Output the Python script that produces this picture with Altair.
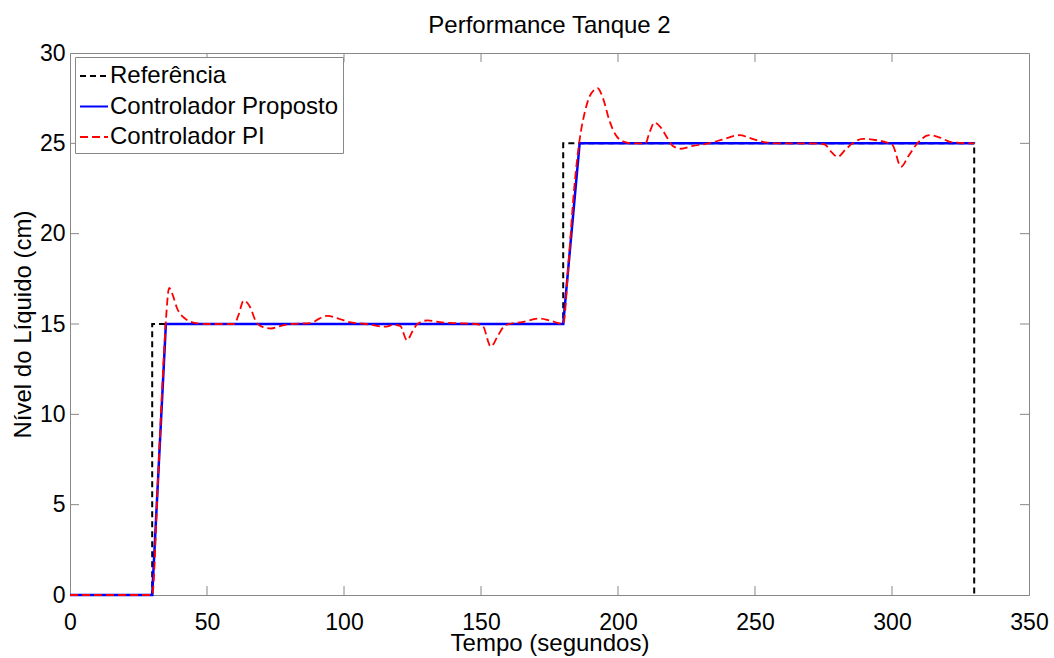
import altair as alt
import pandas as pd

# Reference level (step set-point)
ref_t = [0, 30, 30, 180, 180, 330, 330]
ref_v = [0, 0, 15, 15, 25, 25, 0]

# Proposed controller response
prop_t = [0, 30, 35, 180, 186, 330]
prop_v = [0, 0, 15, 15, 25, 25]

# PI controller response
pi_t = [0, 30, 32, 34, 35, 36.2, 37.5, 39, 42, 46, 50, 60, 61.5, 63.4, 65.5, 68, 70,
        73.4, 77, 81, 88, 91, 94, 98, 102, 108, 115, 118, 120.5, 123, 125, 126.8, 130.5,
        135, 140, 148, 150.6, 153.6, 156, 158, 160.3, 165, 171.3, 175, 180, 182, 184, 186,
        188, 190, 192.6, 194.5, 197, 199, 202, 205, 210, 211.5, 213.3, 215.5, 218, 220,
        223, 227, 233, 238, 244.3, 249, 254, 260, 270, 275.3, 278, 280.2, 283, 285.6,
        289.3, 293, 298, 300.2, 303.3, 306, 309, 313.6, 317, 322, 330]
pi_v = [0, 0, 6, 12.5, 15.2, 17.0, 16.6, 15.9, 15.3, 15.05, 15.0, 15.0, 15.5, 16.3, 16.0,
        15.1, 14.85, 14.75, 14.9, 15.0, 15.05, 15.3, 15.45, 15.3, 15.1, 15.0, 14.85, 14.95,
        14.9, 14.1, 14.6, 15.0, 15.2, 15.1, 15.05, 15.0, 14.9, 13.75, 14.3, 14.8, 15.0,
        15.1, 15.3, 15.2, 15.0, 18.5, 22.5, 25.2, 26.8, 27.7, 28.05, 27.5, 26.2, 25.5, 25.1,
        25.0, 25.0, 25.6, 26.15, 25.9, 25.3, 24.85, 24.7, 24.85, 25.0, 25.2, 25.45, 25.25,
        25.05, 25.0, 25.0, 24.95, 24.5, 24.25, 24.65, 25.0, 25.25, 25.2, 25.05, 24.9, 23.7,
        24.3, 24.95, 25.45, 25.35, 25.05, 25.0]

series_names = ["Referência", "Controlador Proposto", "Controlador PI"]
series_colors = ["#000000", "#0000ff", "#ff0000"]
series_dash = [[6, 4], [1, 0], [8, 4]]

x_ticks = [0, 50, 100, 150, 200, 250, 300, 350]
y_ticks = [0, 5, 10, 15, 20, 25, 30]
x_inner = [50, 100, 150, 200, 250, 300]
y_inner = [5, 10, 15, 20, 25]

W, H = 959, 542
FONT = "Liberation Sans"
GRAY = "#888888"
TICK = 9

frames = []
for name, t, v in [(series_names[0], ref_t, ref_v),
                   (series_names[1], prop_t, prop_v),
                   (series_names[2], pi_t, pi_v)]:
    frames.append(pd.DataFrame({"t": t, "v": v, "serie": name, "i": range(len(t))}))
df = pd.concat(frames, ignore_index=True)

xscale = alt.Scale(domain=[0, 350], nice=False, zero=False)
yscale = alt.Scale(domain=[0, 30], nice=False, zero=False)
color = alt.Color("serie:N", title=None,
                  scale=alt.Scale(domain=series_names, range=series_colors),
                  legend=alt.Legend(orient="none", legendX=5, legendY=4,
                                    symbolType="stroke", symbolSize=784,
                                    symbolStrokeWidth=2, labelFontSize=24,
                                    labelFont=FONT, labelColor="black",
                                    labelOffset=1, padding=4, rowPadding=3.5,
                                    strokeColor=GRAY, fillColor="white",
                                    cornerRadius=0, labelLimit=400))
dash = alt.StrokeDash("serie:N", title=None,
                      scale=alt.Scale(domain=series_names, range=series_dash),
                      legend=alt.Legend(orient="none", legendX=5, legendY=4))

xaxis = alt.Axis(values=x_ticks, title="Tempo (segundos)", labelFlush=False,
                 labelPadding=16, titleY=55, titleBaseline="alphabetic",
                 ticks=False, grid=False)
yaxis = alt.Axis(values=y_ticks, title="Nível do Líquido (cm)", labelPadding=5,
                 titlePadding=4, ticks=False, grid=False)

base = alt.Chart(df).encode(
    x=alt.X("t:Q", scale=xscale, axis=xaxis),
    y=alt.Y("v:Q", scale=yscale, axis=yaxis),
    color=color,
    strokeDash=dash,
    order="i:Q",
)

ref_line = base.transform_filter(alt.datum.serie == series_names[0]).mark_line(strokeWidth=2)
prop_line = base.transform_filter(alt.datum.serie == series_names[1]).mark_line(strokeWidth=2.5)
pi_line = base.transform_filter(alt.datum.serie == series_names[2]).mark_line(
    strokeWidth=1.8, interpolate="monotone")

# Inward tick marks on all four sides of the frame
xt = pd.DataFrame({"t": x_inner})
yt = pd.DataFrame({"v": y_inner})
tick_bottom = alt.Chart(xt).mark_rule(color=GRAY, strokeWidth=1).encode(
    x=alt.X("t:Q", scale=xscale, axis=xaxis), y=alt.value(H), y2=alt.value(H - TICK))
tick_top = alt.Chart(xt).mark_rule(color=GRAY, strokeWidth=1).encode(
    x=alt.X("t:Q", scale=xscale, axis=xaxis), y=alt.value(0), y2=alt.value(TICK))
tick_left = alt.Chart(yt).mark_rule(color=GRAY, strokeWidth=1).encode(
    y=alt.Y("v:Q", scale=yscale, axis=yaxis), x=alt.value(0), x2=alt.value(TICK))
tick_right = alt.Chart(yt).mark_rule(color=GRAY, strokeWidth=1).encode(
    y=alt.Y("v:Q", scale=yscale, axis=yaxis), x=alt.value(W), x2=alt.value(W - TICK))

chart = alt.layer(
    ref_line, prop_line, pi_line, tick_bottom, tick_top, tick_left, tick_right
).properties(
    width=W, height=H,
    background="white",
    autosize=alt.AutoSizeParams(type="none"),
    padding={"left": 70, "top": 53, "right": 25, "bottom": 63},
    title=alt.TitleParams("Performance Tanque 2", fontSize=24, fontWeight="normal",
                          font=FONT, color="black", anchor="middle",
                          baseline="bottom", offset=15, dy=35),
).configure_axis(
    labelFont=FONT, titleFont=FONT, labelFontSize=23, titleFontSize=24,
    titleFontWeight="normal", labelColor="black", titleColor="black",
    domainColor=GRAY, tickSize=0,
).configure_view(
    stroke=GRAY, strokeWidth=1,
)

chart.save("out.html", embed_options={"renderer": "svg", "actions": False})
